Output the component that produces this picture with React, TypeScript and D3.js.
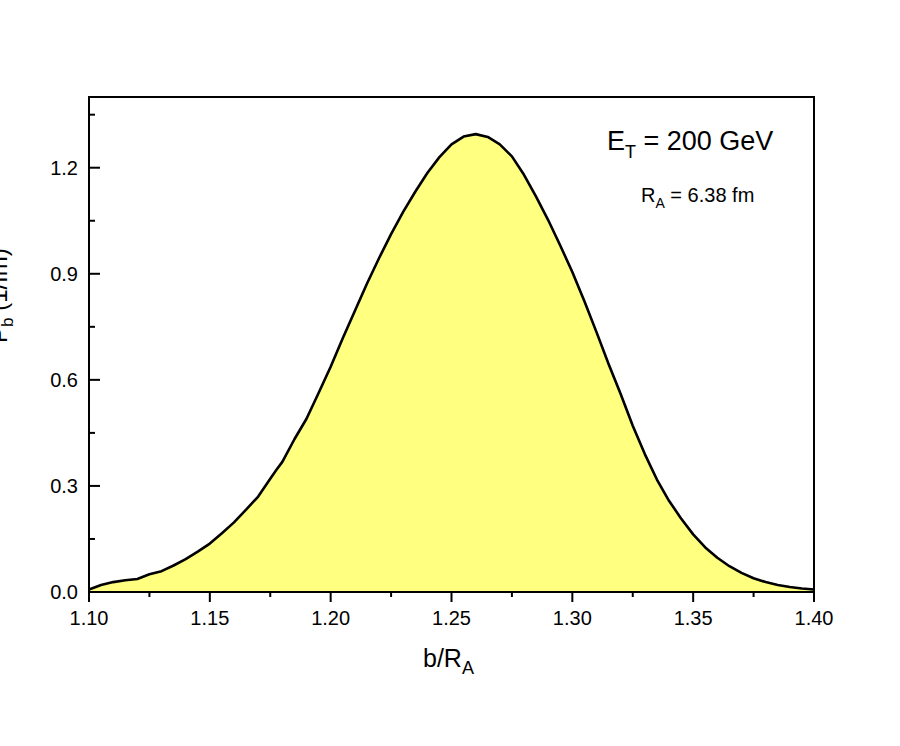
import React from 'react';
import * as d3 from 'd3';

// b/R_A values and P_b (1/fm)
const bValues = [
  1.100, 1.105, 1.110, 1.115, 1.120, 1.125, 1.130, 1.135, 1.140, 1.145,
  1.150, 1.155, 1.160, 1.165, 1.170, 1.175, 1.1775, 1.180, 1.185, 1.190,
  1.195, 1.200, 1.205, 1.210, 1.215, 1.220, 1.225, 1.230, 1.235, 1.240,
  1.245, 1.250, 1.255, 1.260, 1.265, 1.270, 1.275, 1.280, 1.285, 1.290,
  1.295, 1.300, 1.305, 1.310, 1.315, 1.320, 1.325, 1.330, 1.335, 1.340,
  1.345, 1.350, 1.355, 1.360, 1.365, 1.370, 1.375, 1.380, 1.385, 1.390,
  1.395, 1.400,
];
const pValues = [
  0.007, 0.020, 0.028, 0.033, 0.037, 0.050, 0.059, 0.075, 0.093, 0.114,
  0.137, 0.166, 0.197, 0.233, 0.270, 0.320, 0.345, 0.368, 0.432, 0.490,
  0.563, 0.637, 0.718, 0.795, 0.872, 0.944, 1.012, 1.075, 1.132, 1.185,
  1.230, 1.266, 1.288, 1.295, 1.287, 1.266, 1.232, 1.180, 1.118, 1.052,
  0.980, 0.905, 0.822, 0.735, 0.645, 0.560, 0.470, 0.390, 0.318, 0.258,
  0.208, 0.163, 0.126, 0.097, 0.073, 0.054, 0.039, 0.028, 0.020, 0.014,
  0.010, 0.007,
];

const xMajor = [1.10, 1.15, 1.20, 1.25, 1.30, 1.35, 1.40];
const xMinor = [1.125, 1.175, 1.225, 1.275, 1.325, 1.375];
const yMajor = [0.0, 0.3, 0.6, 0.9, 1.2];
const yMinor = [0.15, 0.45, 0.75, 1.05, 1.35];

const W = 900, H = 746;
const left = 89, right = 814, top = 97, bottom = 592;
const font = "'Liberation Sans', Arial, sans-serif";

export default function App() {
  const x = d3.scaleLinear().domain([1.10, 1.40]).range([left, right]);
  const y = d3.scaleLinear().domain([0, 1.4]).range([bottom, top]);

  const pts = bValues.map((b, i) => [b, pValues[i]] as [number, number]);

  const area = d3.area<[number, number]>()
    .x(d => x(d[0]))
    .y0(y(0))
    .y1(d => y(d[1]));
  const line = d3.line<[number, number]>()
    .x(d => x(d[0]))
    .y(d => y(d[1]));

  return (
    <svg width={W} height={H} style={{ position: 'absolute', left: 0, top: 0, background: '#fff' }}
      fontFamily={font}>
      <path d={area(pts) || ''} fill="#ffff80" stroke="none" />
      <path d={line(pts) || ''} fill="none" stroke="#000" strokeWidth={2.6} strokeLinejoin="round" />

      {/* frame */}
      <rect x={left} y={top} width={right - left} height={bottom - top} fill="none" stroke="#000" strokeWidth={2} />

      {/* x ticks, outward */}
      {xMajor.map(v => (
        <g key={'xm' + v}>
          <line x1={x(v)} x2={x(v)} y1={bottom} y2={bottom + 10} stroke="#000" strokeWidth={2} />
          <text x={x(v)} y={625} fontSize={20} textAnchor="middle">{v.toFixed(2)}</text>
        </g>
      ))}
      {xMinor.map(v => (
        <line key={'xn' + v} x1={x(v)} x2={x(v)} y1={bottom} y2={bottom + 5} stroke="#000" strokeWidth={2} />
      ))}

      {/* y ticks, inward */}
      {yMajor.map(v => (
        <g key={'ym' + v}>
          <line x1={left} x2={left + 11} y1={y(v)} y2={y(v)} stroke="#000" strokeWidth={2} />
          <text x={78} y={y(v) + 7.2} fontSize={20} textAnchor="end">{v.toFixed(1)}</text>
        </g>
      ))}
      {yMinor.map(v => (
        <line key={'yn' + v} x1={left} x2={left + 6} y1={y(v)} y2={y(v)} stroke="#000" strokeWidth={2} />
      ))}

      {/* axis titles */}
      <text x={423} y={667} fontSize={25}>
        b/R<tspan fontSize={18} dy={7}>A</tspan>
      </text>
      <text transform="translate(7,343) rotate(-90)" fontSize={24}>
        P<tspan fontSize={17} dy={6}>b</tspan><tspan dy={-6}> (1/fm)</tspan>
      </text>

      {/* annotations */}
      <text x={607} y={150} fontSize={27}>
        E<tspan fontSize={18} dy={8}>T</tspan><tspan dy={-8}> = 200 GeV</tspan>
      </text>
      <text x={641} y={202} fontSize={20}>
        R<tspan fontSize={14} dy={6}>A</tspan><tspan dy={-6}> = 6.38 fm</tspan>
      </text>
    </svg>
  );
}
